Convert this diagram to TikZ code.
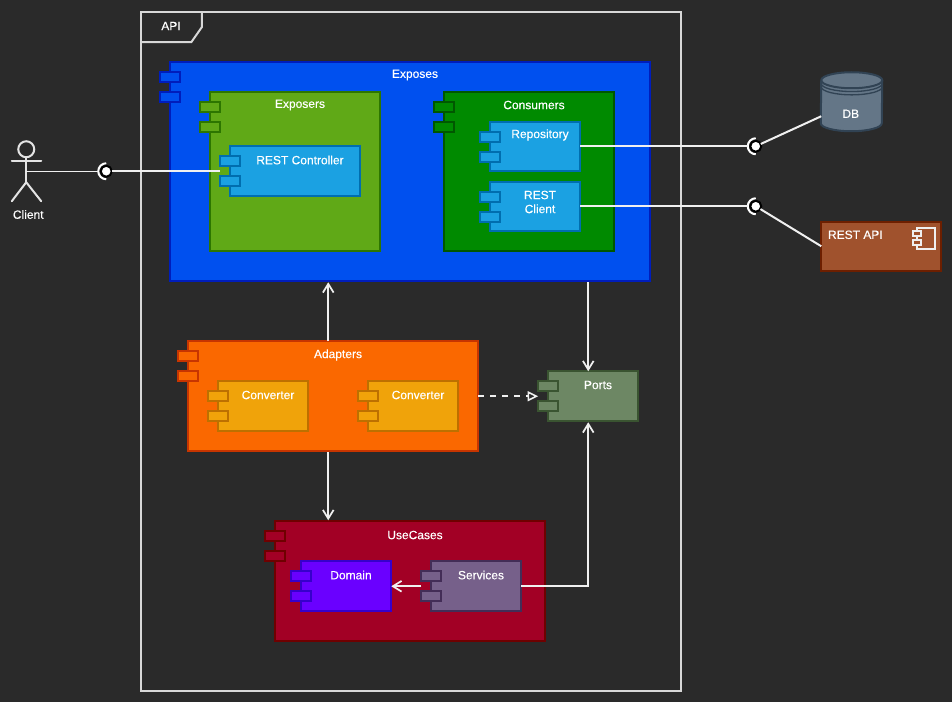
\documentclass[tikz,border=0pt]{standalone}
\usepackage{fontspec}
\setmainfont{Liberation Sans}
\newfontfamily\lblfont[RawFeature={embolden=0.3}]{Liberation Sans}
\usetikzlibrary{arrows.meta,calc}
\definecolor{bgc}{HTML}{2A2A2A}
\definecolor{wline}{HTML}{F0F0F0}
\definecolor{fBlue}{HTML}{0050EF}\definecolor{sBlue}{HTML}{001DBC}
\definecolor{fGreen}{HTML}{60A917}\definecolor{sGreen}{HTML}{2D7600}
\definecolor{fDGreen}{HTML}{008A00}\definecolor{sDGreen}{HTML}{005700}
\definecolor{fCyan}{HTML}{1BA1E2}\definecolor{sCyan}{HTML}{006EAF}
\definecolor{fOrange}{HTML}{FA6800}\definecolor{sOrange}{HTML}{C73500}
\definecolor{fAmber}{HTML}{F0A30A}\definecolor{sAmber}{HTML}{BD7000}
\definecolor{fOlive}{HTML}{6D8764}\definecolor{sOlive}{HTML}{3A5431}
\definecolor{fCrimson}{HTML}{A20025}\definecolor{sCrimson}{HTML}{6F0000}
\definecolor{fViolet}{HTML}{6A00FF}\definecolor{sViolet}{HTML}{3700CC}
\definecolor{fMauve}{HTML}{76608A}\definecolor{sMauve}{HTML}{432D57}
\definecolor{fSteel}{HTML}{647687}\definecolor{sSteel}{HTML}{314354}
\definecolor{fBrown}{HTML}{A0522D}\definecolor{sBrown}{HTML}{6D1F00}
\tikzset{
  x=0.75pt,y=-0.75pt,
  boxshape/.style={rectangle,draw,line width=1.5pt,inner sep=0pt,outer sep=0pt},
  tabshape/.style={boxshape,minimum width=15pt,minimum height=7.5pt},
  txt/.style={text=white,font=\lblfont\fontsize{9}{10.5}\selectfont,inner sep=0pt,align=center},
  conn/.style={draw=wline,line width=1.5pt},
  thinconn/.style={draw=wline,line width=0.75pt},
  flow/.style={conn,-{Straight Barb[length=6.5pt,width=8pt,line width=1.3pt]}},
  realize/.style={conn,dashed,dash pattern=on 4.5pt off 4.5pt,-{Triangle[open,length=8pt,width=7.5pt,line width=1.2pt,fill=bgc]}},
  ballnode/.style={circle,fill=white,draw=black,line width=1.5pt,minimum size=8.25pt,inner sep=0pt,outer sep=0pt},
  socket/.style={draw=white,line width=1.5pt},
  framel/.style={draw=wline!90!black,line width=1.5pt},
  actorl/.style={draw=wline!95!black,line width=1.5pt,line cap=round},
}
% name, x1, y1, x2, y2, colour suffix, label, label x, label y
\newcommand{\compbox}[9]{%
  \pgfmathsetmacro{\cw}{(#4-#2)*0.75}\pgfmathsetmacro{\ch}{(#5-#3)*0.75}%
  \node[boxshape,fill=f#6,draw=s#6,minimum width=\cw pt,minimum height=\ch pt] (#1) at ({(#2+#4)/2},{(#3+#5)/2}) {};
  \node[tabshape,fill=f#6,draw=s#6] (#1-taba) at (#2,{#3+14.5}) {};
  \node[tabshape,fill=f#6,draw=s#6] (#1-tabb) at (#2,{#3+34.5}) {};
  \node[txt] (#1-label) at ({#8-0.25},{#9-0.25}) {#7};
}
\begin{document}
\begin{tikzpicture}
\useasboundingbox (0,0) rectangle (952,702);
\fill[bgc] (0,0) rectangle (952,702);
\begin{scope}[shift={(0.25,0.25)}]

% API frame
\node[rectangle,draw=wline!90!black,line width=1.5pt,inner sep=0pt,outer sep=0pt,minimum width=405pt,minimum height=509.25pt] (api) at (411,351.5) {};
\draw[framel] (141,42) -- (191,42) -- (201.5,27) -- (201.5,12);
\node[txt] (api-label) at (170.75,25.75) {API};

% Components
\compbox{exposes}{170}{62}{650}{281}{Blue}{Exposes}{415}{75}
\compbox{exposers}{210}{92}{380}{251}{Green}{Exposers}{300}{105}
\compbox{rest}{230}{146}{360}{196}{Cyan}{REST Controller}{300}{160}
\compbox{consumers}{444}{92}{614}{251}{DGreen}{Consumers}{534}{105}
\compbox{repo}{490}{122}{580}{171}{Cyan}{Repository}{540}{135}
\compbox{client}{490}{182}{580}{231}{Cyan}{REST\\Client}{540}{202}
\compbox{adapters}{188}{341}{478}{451}{Orange}{Adapters}{338}{355}
\compbox{conva}{218}{381}{308}{431}{Amber}{Converter}{268}{395}
\compbox{convb}{368}{381}{458}{431}{Amber}{Converter}{418}{395}
\compbox{ports}{548}{371}{638}{421}{Olive}{Ports}{598}{385}
\compbox{usecases}{275}{521}{545}{641}{Crimson}{UseCases}{415}{535}
\compbox{domain}{301}{561}{391}{611}{Violet}{Domain}{351}{575}
\compbox{services}{431}{561}{521}{611}{Mauve}{Services}{481}{575}

% DB
\draw[fill=fSteel,draw=sSteel,line width=1.5pt] (821,80) arc[start angle=180,end angle=360,x radius=30.5,y radius=8] -- (881.5,123) arc[start angle=0,end angle=180,x radius=30.5,y radius=8] -- cycle;
\draw[draw=sSteel,line width=1.5pt] (821,80) arc[start angle=180,end angle=0,x radius=30.5,y radius=8];
\draw[draw=sSteel,line width=1pt] (821,83.3) arc[start angle=180,end angle=0,x radius=30.5,y radius=8];
\draw[draw=sSteel,line width=1pt] (821,86.6) arc[start angle=180,end angle=0,x radius=30.5,y radius=8];
\node[txt] (db) at (850.5,113.5) {DB};
\coordinate (dbport) at (821,116);

% REST API
\node[boxshape,fill=fBrown,draw=sBrown,minimum width=90pt,minimum height=36.75pt] (restapi) at (881,246.5) {};
\node[txt,anchor=west] (restapi-label) at (827.5,234.5) {REST API};
\node[rectangle,draw=wline,line width=1.5pt,inner sep=0pt,minimum width=13.5pt,minimum height=15.75pt] (icon) at (926,238.5) {};
\node[rectangle,draw=wline,fill=fBrown,line width=1.5pt,inner sep=0pt,minimum width=6pt,minimum height=3.4pt] (icona) at (917,233.5) {};
\node[rectangle,draw=wline,fill=fBrown,line width=1.5pt,inner sep=0pt,minimum width=6pt,minimum height=3.4pt] (iconb) at (917,242.5) {};
\coordinate (apiport) at (821,246);

% Actor
\node[circle,draw=wline!95!black,line width=1.5pt,minimum size=12pt,inner sep=0pt,outer sep=0pt] (head) at (26,149) {};
\coordinate (hip) at (26,182);
\coordinate (armc) at (26,171);
\draw[actorl] (head.south) -- (hip);
\draw[actorl] (11.5,161) -- (41,161);
\draw[actorl] (11.5,201) -- (hip) -- (41,201);
\node[txt] (actor-label) at (28,214.25) {Client};

% Interfaces
\coordinate (sockc) at (106,171);
\coordinate (sockr) at (755.5,146);
\coordinate (socks) at (755.5,206);
\draw[socket] (106,163) arc[start angle=-90,end angle=-270,radius=8];
\draw[socket] (755.5,138) arc[start angle=-90,end angle=-270,radius=8];
\draw[socket] (755.5,198) arc[start angle=-90,end angle=-270,radius=8];

% Connectors
\draw[thinconn] (armc) -- (98,171);
\node[ballnode] (ballc) at (sockc) {};
\node[ballnode] (ballr) at (sockr) {};
\node[ballnode] (balls) at (socks) {};
\draw[conn] (ballc) -- (rest-taba.south west |- ballc);
\draw[conn] (repo.east |- ballr) -- (747.5,146);
\draw[conn] (client.east |- balls) -- (747.5,206);
\draw[conn] (ballr) -- (dbport);
\draw[conn] (balls) -- (apiport);
\draw[flow] ($(adapters.north)+(-5,0)$) -- ($(exposes.south)+(-82,1)$);
\draw[flow] ($(exposes.south)+(178,1)$) -- ($(ports.north)+(-5,0)$);
\draw[flow] ($(adapters.south)+(-5,1)$) -- ($(usecases.north)+(-82,-1)$);
\draw[flow] (services.east) -- (588,586) -- ($(ports.south)+(-5,1)$);
\draw[flow] (services-tabb.north west |- services.west) -- (domain.east);
\draw[realize] (adapters.east) -- (ports-taba.west |- adapters.east);
\end{scope}
\end{tikzpicture}
\end{document}
